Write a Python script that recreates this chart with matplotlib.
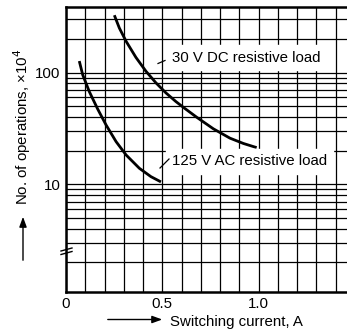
import matplotlib
matplotlib.use("Agg")
import matplotlib.pyplot as plt
from matplotlib.ticker import FixedLocator, NullFormatter, LogLocator

plt.rcParams['font.family'] = ['Liberation Sans', 'DejaVu Sans']

# Data
dc_current = [0.251, 0.277, 0.312, 0.363, 0.415, 0.467, 0.519, 0.571, 0.614,
              0.679, 0.765, 0.851, 0.921, 0.99]
dc_ops = [327, 251, 191, 137, 103, 81, 65.8, 55.0, 48.2,
          39.8, 31.4, 25.9, 23.2, 21.3]
ac_current = [0.069, 0.087, 0.121, 0.165, 0.208, 0.260, 0.312, 0.381, 0.441, 0.493]
ac_ops = [127, 95.3, 67.6, 47, 34, 24.1, 18.3, 13.9, 11.7, 10.5]

xticks = [0, 0.5, 1.0]
xtick_labels = ['0', '0.5', '1.0']
yticks = [10, 100]
ytick_labels = ['10', '100']

W, H = 347, 334
fig = plt.figure(figsize=(W / 100, H / 100), dpi=100)
left, right, top, bottom = 66, 347, 7.3, 291.7
ax = fig.add_axes([left / W, 1 - bottom / H, (right - left) / W, (bottom - top) / H])

ax.set_yscale('log')
ax.set_xlim(0, 1.459)
ax.set_ylim(1.09, 385)

ax.plot(dc_current, dc_ops, color='black', lw=2.0, solid_capstyle='butt', solid_joinstyle='round')
ax.plot(ac_current, ac_ops, color='black', lw=2.0, solid_capstyle='butt', solid_joinstyle='round')

ax.xaxis.set_major_locator(FixedLocator(xticks))
ax.set_xticklabels(xtick_labels)
ax.xaxis.set_minor_locator(FixedLocator([i / 10 for i in range(1, 15)]))
ax.yaxis.set_major_locator(FixedLocator(yticks))
ax.set_yticklabels(ytick_labels)
ax.yaxis.set_minor_locator(LogLocator(base=10, subs=range(2, 10), numticks=20))
ax.yaxis.set_minor_formatter(NullFormatter())
ax.tick_params(which='both', length=0, labelsize=10.8, pad=4)

ax.grid(True, which='both', axis='both', color='black', lw=0.9)
ax.set_axisbelow(True)

for s in ['left', 'bottom', 'top']:
    ax.spines[s].set_linewidth(1.8)
ax.spines['right'].set_visible(False)

# labels with leader lines
ax.text(0.377, 0.822, '30 V DC resistive load', transform=ax.transAxes,
        fontsize=10.8, va='center', ha='left', backgroundcolor='white')
ax.text(0.377, 0.458, '125 V AC resistive load', transform=ax.transAxes,
        fontsize=10.8, va='center', ha='left', backgroundcolor='white')

fig.add_artist(plt.Line2D([158 / W, 165 / W], [1 - 63.5 / H, 1 - 60.5 / H], color='black', lw=0.9))
fig.add_artist(plt.Line2D([160 / W, 169 / W], [1 - 168 / H, 1 - 159 / H], color='black', lw=0.9))

# axis break marks
for yy in (249.5, 253):
    fig.add_artist(plt.Line2D([61 / W, 72 / W], [1 - (yy + 1.5) / H, 1 - (yy - 1.5) / H], color='black', lw=1.0))

# axis titles with arrows
fig.text(22 / W, 1 - 127 / H, 'No. of operations, ×10$^4$', rotation=90, fontsize=10.8,
         ha='center', va='center')
fig.add_artist(matplotlib.patches.FancyArrowPatch((23 / W, 1 - 263 / H), (23 / W, 1 - 214 / H),
               transform=fig.transFigure, arrowstyle='-|>,head_length=6,head_width=2.2', color='black', lw=1.0))
fig.text(170 / W, 1 - 322 / H, 'Switching current, A', fontsize=10.8, ha='left', va='center')
fig.add_artist(matplotlib.patches.FancyArrowPatch((105 / W, 1 - 319.5 / H), (165 / W, 1 - 319.5 / H),
               transform=fig.transFigure, arrowstyle='-|>,head_length=6,head_width=2.2', color='black', lw=1.0))

fig.savefig('out.png', dpi=100)
